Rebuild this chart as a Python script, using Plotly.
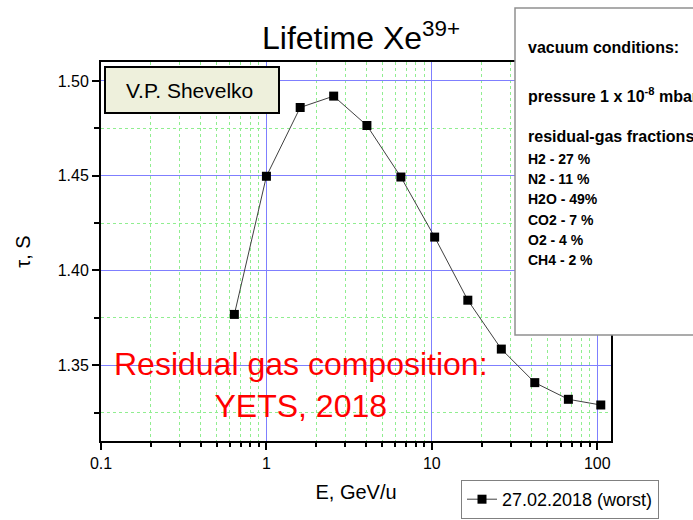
import plotly.graph_objects as go

energy = [0.64, 1.0, 1.6, 2.55, 4.05, 6.5, 10.4, 16.5, 26.3, 41.9, 66.9, 105.0]
lifetime = [1.3768, 1.4497, 1.486, 1.492, 1.4765, 1.4493, 1.4176, 1.3843, 1.3585, 1.3408, 1.332, 1.329]
series_name = "27.02.2018 (worst)"
gas_lines = ["H2 - 27 %", "N2 - 11 %", "H2O - 49%", "CO2 - 7 %", "O2 - 4 %", "CH4 - 2 %"]
y_ticks = [1.35, 1.40, 1.45, 1.50]
x_ticks = [0.1, 1, 10, 100]

FONT = "Arial, Liberation Sans, sans-serif"

fig = go.Figure()
fig.add_trace(go.Scatter(
    x=energy, y=lifetime, mode="lines+markers", name=series_name,
    line=dict(color="#404040", width=1),
    marker=dict(symbol="square", size=9, color="black"),
))

W, H = 693, 520
L, R, T, B = 101, 82, 62, 79
PW, PH = W - L - R, H - T - B


def fx(x):
    return (x - L) / PW


def fy(y):
    return (H - B - y) / PH


fig.update_layout(
    width=W, height=H,
    margin=dict(l=L, r=R, t=T, b=B, autoexpand=False),
    paper_bgcolor="white", plot_bgcolor="white",
    font=dict(family=FONT, color="black"),
    title=dict(text="Lifetime Xe<sup>39+</sup>", x=361 / W, xanchor="center",
               y=1 - 38 / H, yanchor="middle", font=dict(size=32, color="black"),
               automargin=False),
    showlegend=True,
    legend=dict(x=fx(461), y=fy(519), xanchor="left", yanchor="bottom",
                bordercolor="#808080", borderwidth=1, bgcolor="white",
                font=dict(size=18, color="black"), itemwidth=30,
                tracegroupgap=0),
)

fig.update_xaxes(
    type="log", range=[-1, 2.083], automargin=False,
    tickvals=x_ticks, ticktext=["0.1", "1", "10", "100"],
    tickfont=dict(size=16), ticks="outside", ticklen=7, tickwidth=2, tickcolor="black",
    showline=True, linecolor="black", linewidth=2, mirror=True,
    showgrid=True, gridcolor="#7f7fff", gridwidth=1,
    minor=dict(dtick="D1", ticks="outside", ticklen=4, tickwidth=1.5, tickcolor="black",
               showgrid=True, gridcolor="#90ee90", griddash="dot", gridwidth=1),
    title=dict(text="E, GeV/u", font=dict(size=20), standoff=14),
    zeroline=False,
)
fig.update_yaxes(
    range=[1.31, 1.51], automargin=False,
    tickvals=y_ticks, ticktext=["1.35", "1.40", "1.45", "1.50"],
    tickfont=dict(size=16), ticks="outside", ticklen=7, tickwidth=2, tickcolor="black",
    showline=True, linecolor="black", linewidth=2, mirror=True,
    showgrid=True, gridcolor="#7f7fff", gridwidth=1,
    minor=dict(dtick=0.025, tick0=1.30, ticks="outside", ticklen=5, tickwidth=1.5, tickcolor="black",
               showgrid=True, gridcolor="#90ee90", griddash="dot", gridwidth=1),
    title=dict(text="τ, S", font=dict(size=20), standoff=22),
    zeroline=False,
)

# V.P. Shevelko box
fig.add_shape(type="rect", xref="paper", yref="paper",
              x0=fx(105), x1=fx(279), y0=fy(113), y1=fy(67),
              fillcolor="#eef0dc", line=dict(color="black", width=2), layer="above")
fig.add_annotation(xref="paper", yref="paper", x=fx(189), y=fy(90),
                   xanchor="center", yanchor="middle",
                   text="V.P. Shevelko", showarrow=False, font=dict(size=21, color="black"))

# Red composition text
fig.add_annotation(xref="paper", yref="paper", x=fx(301), y=fy(385),
                   xanchor="center", yanchor="middle",
                   text="Residual gas composition:<br>YETS, 2018", showarrow=False,
                   align="center", font=dict(size=32, color="red"))

# Vacuum conditions box (overlapping right side)
fig.add_shape(type="rect", xref="paper", yref="paper",
              x0=fx(515), x1=fx(705), y0=fy(335), y1=fy(8),
              fillcolor="white", line=dict(color="#909090", width=1.5), layer="above")

header_lines = [("vacuum conditions:", 48), ("pressure 1 x 10<sup>-8</sup> mbar", 95),
                ("residual-gas fractions", 136)]
for txt, yy in header_lines:
    fig.add_annotation(xref="paper", yref="paper", x=fx(526), y=fy(yy),
                       xanchor="left", yanchor="middle",
                       text="<b>" + txt + "</b>", showarrow=False,
                       font=dict(size=16, color="black"))
for i, txt in enumerate(gas_lines):
    yy = 159 + i * 20.2
    fig.add_annotation(xref="paper", yref="paper", x=fx(526), y=fy(yy),
                       xanchor="left", yanchor="middle",
                       text="<b>" + txt + "</b>", showarrow=False,
                       font=dict(size=14, color="black"))

fig.write_html("out.html", config={"displayModeBar": False},
               post_script="document.body.style.margin='0px';")
